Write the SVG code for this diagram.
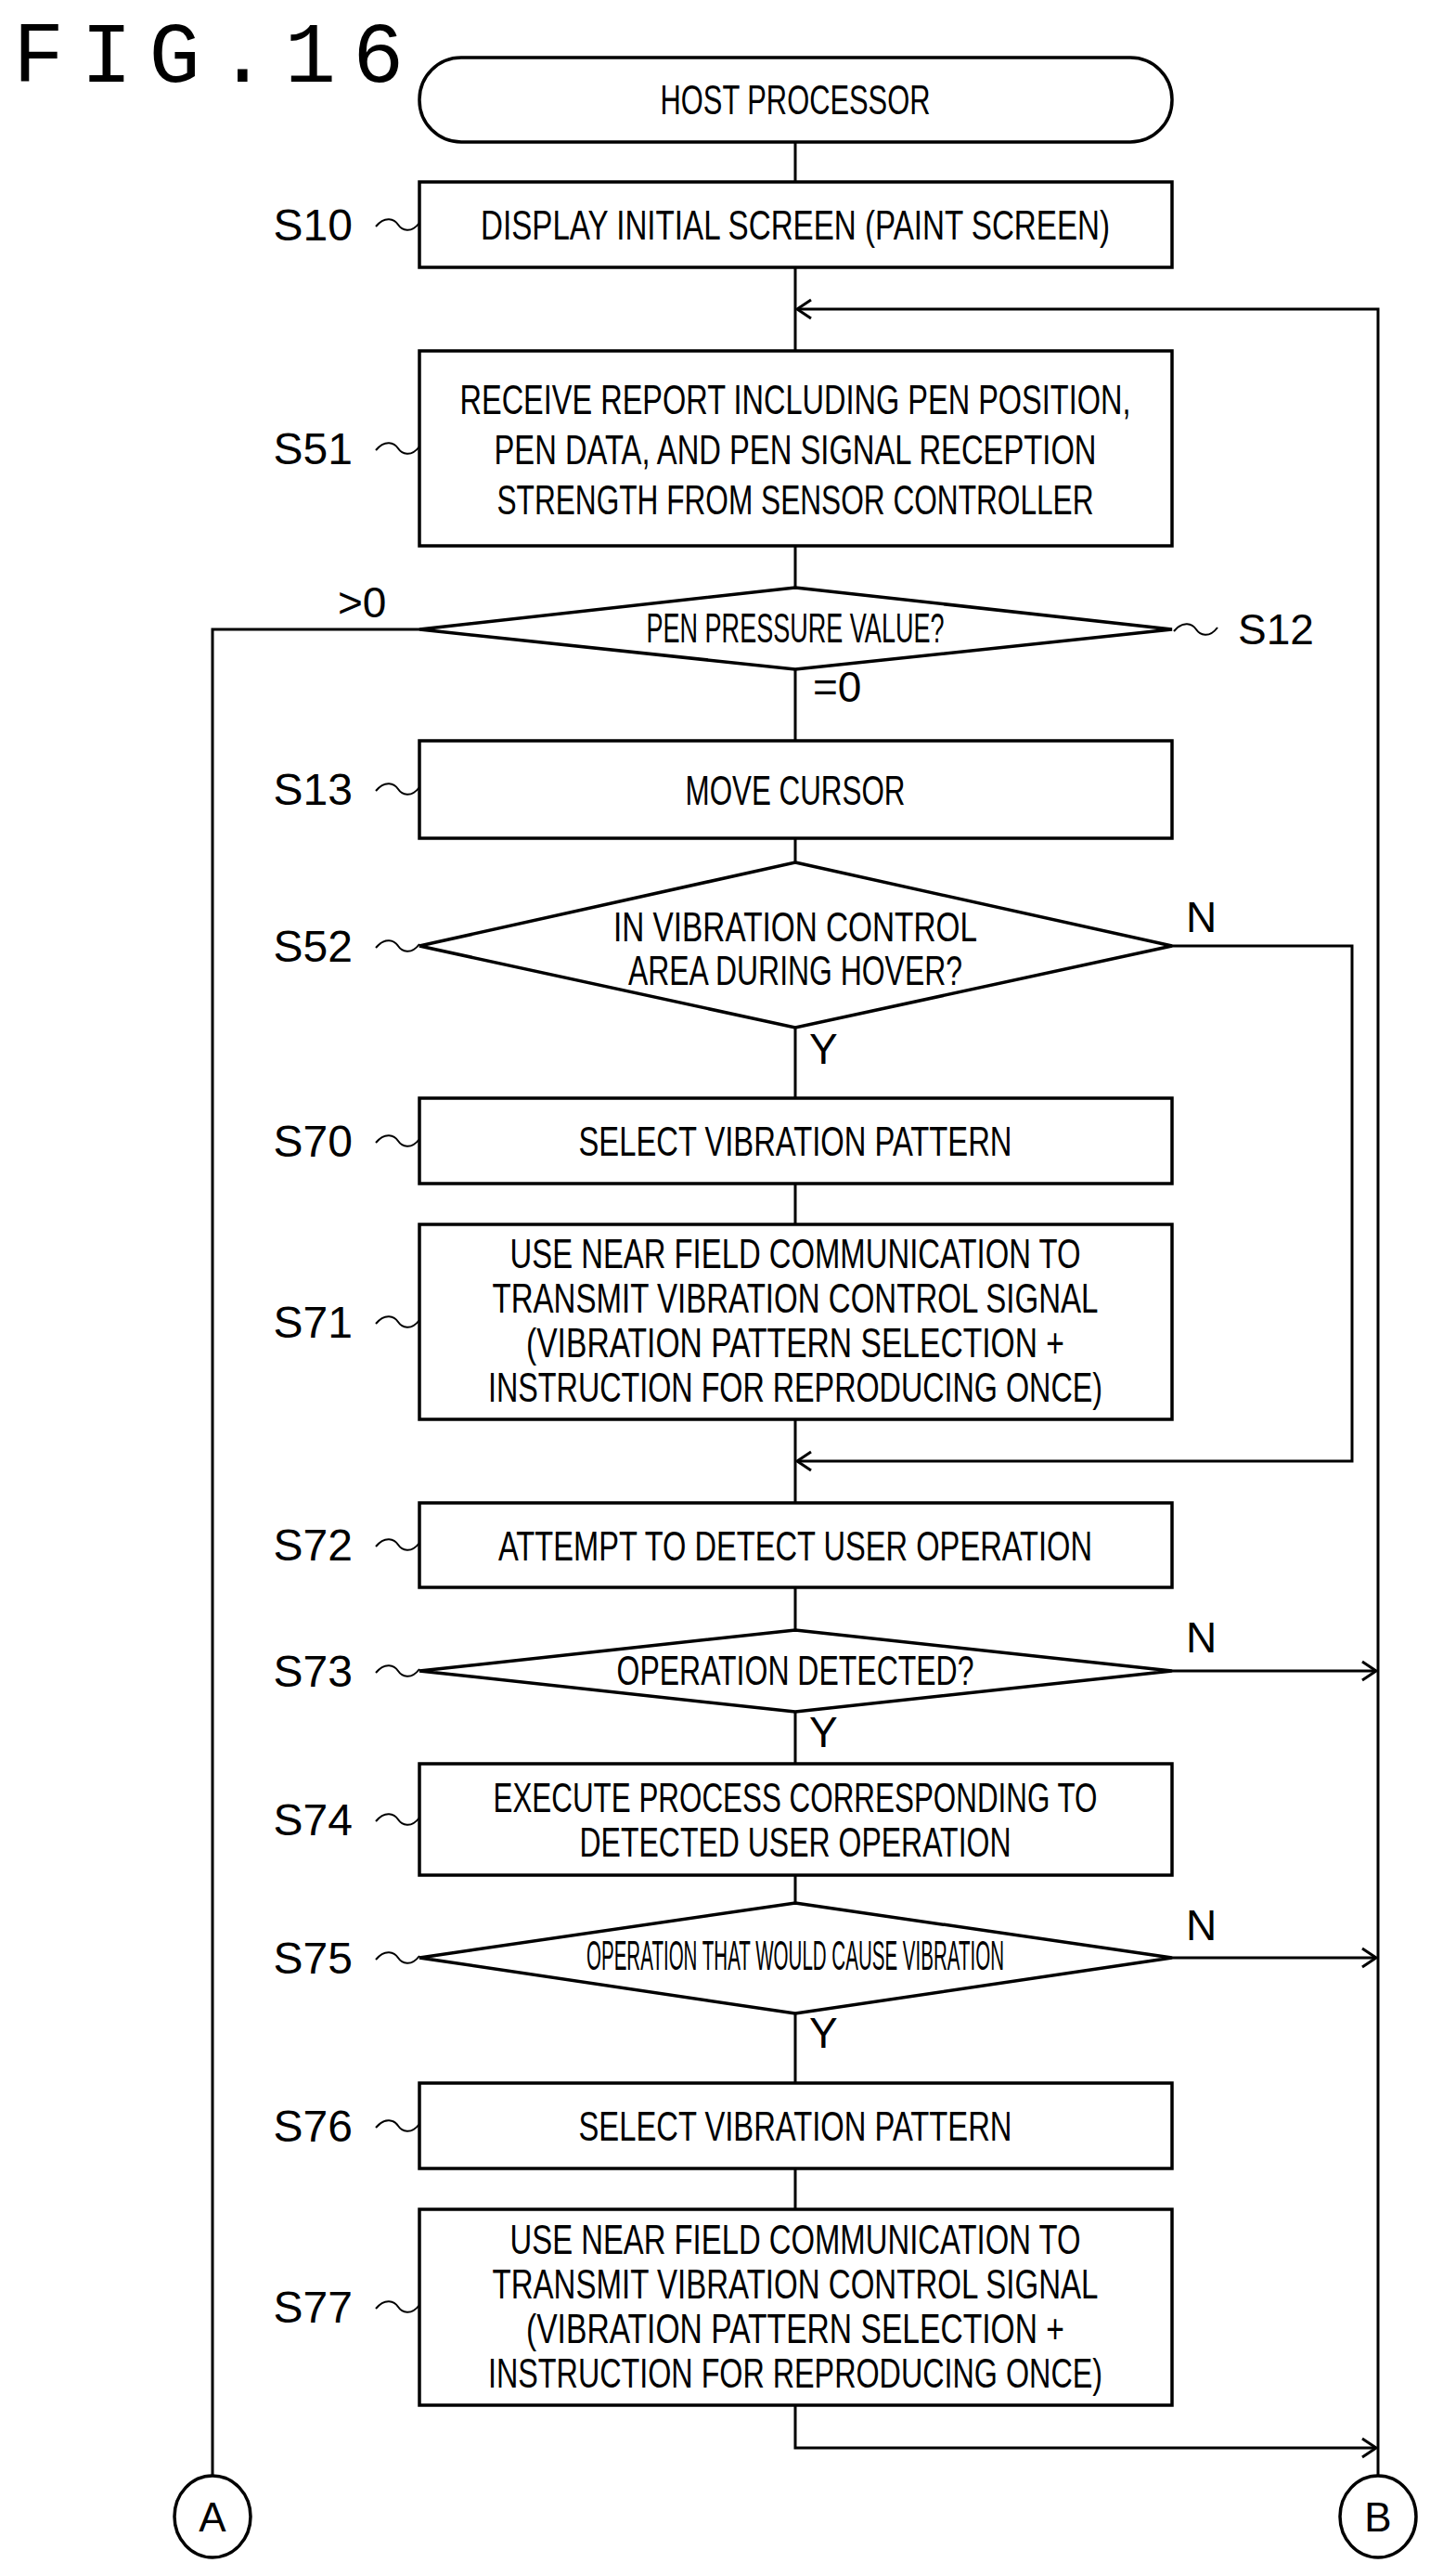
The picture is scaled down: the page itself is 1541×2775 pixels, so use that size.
<svg xmlns="http://www.w3.org/2000/svg" width="1541" height="2775" viewBox="0 0 1541 2775">
<style>
.b{fill:#fff;stroke:#000;stroke-width:3.5}
.c{fill:none;stroke:#000;stroke-width:3}
.t{font-family:"Liberation Sans",Arial,sans-serif;font-size:44px;text-anchor:middle;fill:#000}
.l{font-family:"Liberation Sans",Arial,sans-serif;font-size:48px;text-anchor:end;fill:#000}
.s{font-family:"Liberation Sans",Arial,sans-serif;font-size:46px;fill:#000}
.w{fill:none;stroke:#000;stroke-width:2}
</style>
<defs>
<marker id="a" markerWidth="24" markerHeight="24" refX="21" refY="12" orient="auto" markerUnits="userSpaceOnUse">
<polyline points="6,2 21,12 6,22" fill="none" stroke="#000" stroke-width="3"/>
</marker>
</defs>
<rect width="1541" height="2775" fill="#fff"/>
<text x="14" y="88" font-family="Liberation Mono,monospace" font-size="92" letter-spacing="18" fill="#000">FIG.16</text>
<g id="connectors">
<path class="c" d="M857,153V196M857,288V378M857,588V633M857,721V798M857,903V929M857,1107V1183M857,1275V1319M857,1529V1619M857,1710V1756M857,1844V1900M857,2020V2050M857,2169V2244M857,2336V2380"/>
<path class="c" d="M1485,2668V333H859" marker-end="url(#a)"/>
<path class="c" d="M452,678H229V2668"/>
<path class="c" d="M1263,1019H1457V1574H859" marker-end="url(#a)"/>
<path class="c" d="M1263,1800H1483" marker-end="url(#a)"/>
<path class="c" d="M1263,2109H1483" marker-end="url(#a)"/>
<path class="c" d="M857,2591V2637H1483" marker-end="url(#a)"/>
<text class="s" x="364" y="665">&gt;0</text>
<text class="s" x="876" y="756">=0</text>
<text class="s" x="1278" y="1004">N</text>
<text class="s" x="872" y="1146">Y</text>
<text class="s" x="1278" y="1780">N</text>
<text class="s" x="872" y="1882">Y</text>
<text class="s" x="1278" y="2090">N</text>
<text class="s" x="872" y="2206">Y</text>
</g>
<g id="host"><rect class="b" x="452" y="62" width="811" height="91" rx="45"/><text class="t" x="857" y="123" textLength="291" lengthAdjust="spacingAndGlyphs">HOST PROCESSOR</text></g>
<g id="S10"><rect class="b" x="452" y="196" width="811" height="92"/><text class="t" x="857" y="258" textLength="678" lengthAdjust="spacingAndGlyphs">DISPLAY INITIAL SCREEN (PAINT SCREEN)</text>
<text class="l" x="380" y="259">S10</text><path class="w" d="M405,244c10,-12 20,-8 24,-2s14,10 23,-2"/></g>
<g id="S51"><rect class="b" x="452" y="378" width="811" height="210"/>
<text class="t" x="857" y="446" textLength="723" lengthAdjust="spacingAndGlyphs">RECEIVE REPORT INCLUDING PEN POSITION,</text>
<text class="t" x="857" y="500" textLength="649" lengthAdjust="spacingAndGlyphs">PEN DATA, AND PEN SIGNAL RECEPTION</text>
<text class="t" x="857" y="554" textLength="643" lengthAdjust="spacingAndGlyphs">STRENGTH FROM SENSOR CONTROLLER</text>
<text class="l" x="380" y="500">S51</text><path class="w" d="M405,485c10,-12 20,-8 24,-2s14,10 23,-2"/></g>
<g id="S12"><polygon class="b" points="857,633 1263,678 857,721 452,678"/><text class="t" x="857" y="692" font-size="38" textLength="321" lengthAdjust="spacingAndGlyphs">PEN PRESSURE VALUE?</text>
<text class="s" x="1334" y="694">S12</text><path class="w" d="M1265,680c10,-12 20,-8 24,-2s14,10 23,-2"/></g>
<g id="S13"><rect class="b" x="452" y="798" width="811" height="105"/><text class="t" x="857" y="867" textLength="237" lengthAdjust="spacingAndGlyphs">MOVE CURSOR</text>
<text class="l" x="380" y="867">S13</text><path class="w" d="M405,852c10,-12 20,-8 24,-2s14,10 23,-2"/></g>
<g id="S52"><polygon class="b" points="857,929 1263,1019 857,1107 452,1019"/>
<text class="t" x="857" y="1014" textLength="392" lengthAdjust="spacingAndGlyphs">IN VIBRATION CONTROL</text>
<text class="t" x="857" y="1061" textLength="360" lengthAdjust="spacingAndGlyphs">AREA DURING HOVER?</text>
<text class="l" x="380" y="1036">S52</text><path class="w" d="M405,1021c10,-12 20,-8 24,-2s14,10 23,-2"/></g>
<g id="S70"><rect class="b" x="452" y="1183" width="811" height="92"/><text class="t" x="857" y="1245" textLength="467" lengthAdjust="spacingAndGlyphs">SELECT VIBRATION PATTERN</text>
<text class="l" x="380" y="1246">S70</text><path class="w" d="M405,1231c10,-12 20,-8 24,-2s14,10 23,-2"/></g>
<g id="S71"><rect class="b" x="452" y="1319" width="811" height="210"/>
<text class="t" x="857" y="1366" font-size="42" textLength="615" lengthAdjust="spacingAndGlyphs">USE NEAR FIELD COMMUNICATION TO</text>
<text class="t" x="857" y="1414" font-size="42" textLength="653" lengthAdjust="spacingAndGlyphs">TRANSMIT VIBRATION CONTROL SIGNAL</text>
<text class="t" x="857" y="1462" font-size="42" textLength="580" lengthAdjust="spacingAndGlyphs">(VIBRATION PATTERN SELECTION +</text>
<text class="t" x="857" y="1510" font-size="42" textLength="662" lengthAdjust="spacingAndGlyphs">INSTRUCTION FOR REPRODUCING ONCE)</text>
<text class="l" x="380" y="1441">S71</text><path class="w" d="M405,1426c10,-12 20,-8 24,-2s14,10 23,-2"/></g>
<g id="S72"><rect class="b" x="452" y="1619" width="811" height="91"/><text class="t" x="857" y="1681" textLength="640" lengthAdjust="spacingAndGlyphs">ATTEMPT TO DETECT USER OPERATION</text>
<text class="l" x="380" y="1681">S72</text><path class="w" d="M405,1666c10,-12 20,-8 24,-2s14,10 23,-2"/></g>
<g id="S73"><polygon class="b" points="857,1756 1263,1800 857,1844 452,1800"/><text class="t" x="857" y="1815" font-size="40" textLength="385" lengthAdjust="spacingAndGlyphs">OPERATION DETECTED?</text>
<text class="l" x="380" y="1817">S73</text><path class="w" d="M405,1802c10,-12 20,-8 24,-2s14,10 23,-2"/></g>
<g id="S74"><rect class="b" x="452" y="1900" width="811" height="120"/>
<text class="t" x="857" y="1952" textLength="651" lengthAdjust="spacingAndGlyphs">EXECUTE PROCESS CORRESPONDING TO</text>
<text class="t" x="857" y="2000" textLength="465" lengthAdjust="spacingAndGlyphs">DETECTED USER OPERATION</text>
<text class="l" x="380" y="1977">S74</text><path class="w" d="M405,1962c10,-12 20,-8 24,-2s14,10 23,-2"/></g>
<g id="S75"><polygon class="b" points="857,2050 1263,2109 857,2169 452,2109"/><text class="t" x="857" y="2122" font-size="36" textLength="450" lengthAdjust="spacingAndGlyphs">OPERATION THAT WOULD CAUSE VIBRATION</text>
<text class="l" x="380" y="2126">S75</text><path class="w" d="M405,2111c10,-12 20,-8 24,-2s14,10 23,-2"/></g>
<g id="S76"><rect class="b" x="452" y="2244" width="811" height="92"/><text class="t" x="857" y="2306" textLength="467" lengthAdjust="spacingAndGlyphs">SELECT VIBRATION PATTERN</text>
<text class="l" x="380" y="2307">S76</text><path class="w" d="M405,2292c10,-12 20,-8 24,-2s14,10 23,-2"/></g>
<g id="S77"><rect class="b" x="452" y="2380" width="811" height="211"/>
<text class="t" x="857" y="2428" font-size="42" textLength="615" lengthAdjust="spacingAndGlyphs">USE NEAR FIELD COMMUNICATION TO</text>
<text class="t" x="857" y="2476" font-size="42" textLength="653" lengthAdjust="spacingAndGlyphs">TRANSMIT VIBRATION CONTROL SIGNAL</text>
<text class="t" x="857" y="2524" font-size="42" textLength="580" lengthAdjust="spacingAndGlyphs">(VIBRATION PATTERN SELECTION +</text>
<text class="t" x="857" y="2572" font-size="42" textLength="662" lengthAdjust="spacingAndGlyphs">INSTRUCTION FOR REPRODUCING ONCE)</text>
<text class="l" x="380" y="2502">S77</text><path class="w" d="M405,2487c10,-12 20,-8 24,-2s14,10 23,-2"/></g>
<g id="A"><ellipse class="b" cx="229" cy="2711" rx="41" ry="44" stroke-width="3"/><text class="t" x="229" y="2727">A</text></g>
<g id="B"><ellipse class="b" cx="1485" cy="2711" rx="41" ry="44" stroke-width="3"/><text class="t" x="1485" y="2727">B</text></g>
</svg>
